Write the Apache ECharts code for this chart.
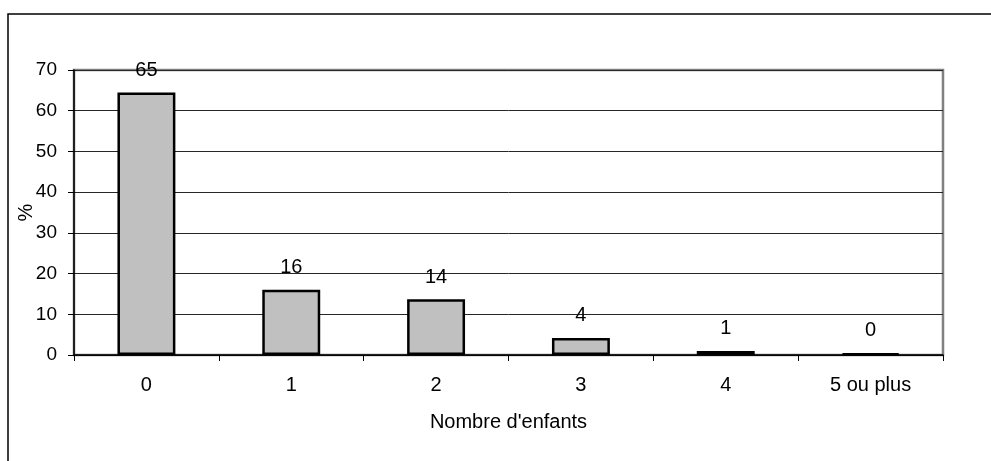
<!DOCTYPE html>
<html>
<head>
<meta charset="utf-8">
<script src="https://cdn.jsdelivr.net/npm/echarts@6/dist/echarts.min.js"></script>
<style>
  html, body { margin: 0; padding: 0; background: #fff; }
  #main { width: 991px; height: 461px; }
</style>
</head>
<body>
<div id="main"></div>
<script>
// donnees du graphique
var categories = ['0', '1', '2', '3', '4', '5 ou plus']
var pourcentages = [64.5, 16, 13.7, 4.2, 1.0, 0.4]
var yTicks = [0, 70, 10] // min, max, interval

var myChart = echarts.init(document.getElementById('main'))

var font = '"Liberation Sans", Arial, sans-serif'

var option = {
    backgroundColor: '#fff',
    animation: false,
    graphic: [{
        type: 'rect',
        shape: { x: 8, y: 14, width: 1100, height: 600 },
        style: { fill: 'none', stroke: '#000', lineWidth: 1.5 },
        silent: true
    }],
    grid: {
        left: 74, right: 48, top: 70, bottom: 106,
        show: true,
        borderColor: '#808080',
        borderWidth: 2.5,
        backgroundColor: 'transparent'
    },
    xAxis: {
        type: 'category',
        data: categories,
        name: "Nombre d'enfants",
        nameLocation: 'middle',
        nameGap: 57,
        nameMoveOverlap: false,
        nameTextStyle: { color: '#000', fontSize: 20, fontFamily: font },
        axisLine: { lineStyle: { color: '#000', width: 1.5 } },
        axisTick: { show: true, length: 6, lineStyle: { color: '#000', width: 1 } },
        axisLabel: { color: '#000', fontSize: 20, fontFamily: font, margin: 20 },
        splitLine: { show: false }
    },
    yAxis: {
        type: 'value',
        min: yTicks[0],
        max: yTicks[1],
        interval: yTicks[2],
        name: '%',
        nameLocation: 'middle',
        nameGap: 38,
        nameRotate: 90,
        nameMoveOverlap: false,
        nameTextStyle: { color: '#000', fontSize: 20, fontFamily: font },
        axisLine: { show: true, lineStyle: { color: '#000', width: 1.5 } },
        axisTick: { show: true, length: 6, lineStyle: { color: '#000', width: 1 } },
        axisLabel: { color: '#000', fontSize: 19, fontFamily: font, margin: 17 },
        splitLine: { show: true, lineStyle: { color: '#262626', width: 1 } }
    },
    series: [{
        name: '%',
        type: 'bar',
        data: pourcentages,
        barWidth: '40%',
        itemStyle: { color: '#c0c0c0', borderColor: '#000', borderWidth: 2.5 },
        label: {
            show: true,
            position: 'top',
            distance: 12,
            color: '#000',
            fontSize: 20,
            fontFamily: font,
            formatter: function (p) { return Math.round(p.value) }
        }
    }]
}

myChart.setOption(option)
</script>
</body>
</html>
